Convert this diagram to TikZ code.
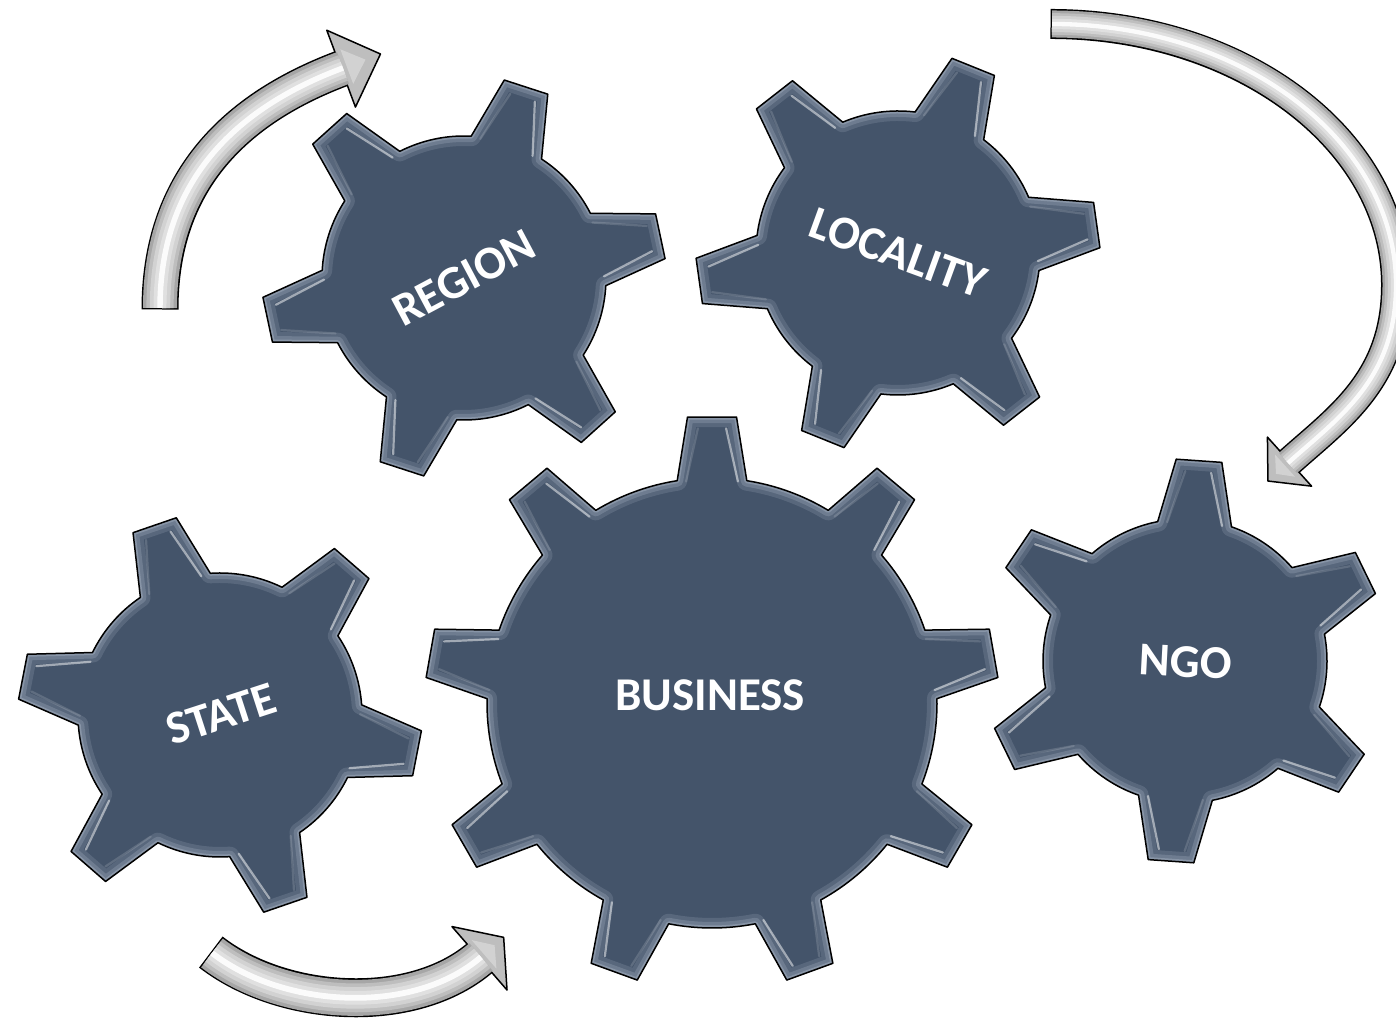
\documentclass[tikz,border=0pt]{standalone}
\usepackage{fontspec}
\setmainfont{Carlito}
\usetikzlibrary{decorations.markings}

\definecolor{cogblue}{HTML}{44546A}
\definecolor{cogrim}{HTML}{A3AFBF}
\definecolor{arrowgray}{HTML}{A6A6A6}
\definecolor{arrowmid}{HTML}{BEBEBE}
\definecolor{arrowlight}{HTML}{D2D2D2}

% outline of a cog: center, teeth, first tooth angle, body radius,
% tip radius, half angle of a tooth at the body and at the tip
\newcommand\cogpath[7]{([shift={(#1)}]{#3-#6}:#4)
    \foreach \k [evaluate=\k as \ang using #3+360*(\k-1)/#2] in {1,...,#2}{
        -- ([shift={(#1)}]{\ang-#7}:#5) -- ([shift={(#1)}]{\ang+#7}:#5)
        -- ([shift={(#1)}]{\ang+#6}:#4)
        arc[start angle={\ang+#6}, end angle={\ang+360/#2-#6}, radius=#4]
    } -- cycle}

% shine along the flanks of every tooth
\newcommand\cogglints[7]{
    \foreach \k [evaluate=\k as \ang using #3+360*(\k-1)/#2] in {1,...,#2}{
        \draw[glint] ([shift={(#1)}]{\ang-0.6*#7}:{#5-12})
            -- ([shift={(#1)}]{\ang-0.75*#6}:{#4-2});
        \draw[glint, opacity=0.15] ([shift={(#1)}]{\ang+0.6*#7}:{#5-12})
            -- ([shift={(#1)}]{\ang+0.75*#6}:{#4-2});
    }}

% curved silver arrow: path, shaft width, head length, head half width
\newcommand\silverarrow[4]{
    \draw[line width=#2+1.5pt, shorten <=-0.75pt] #1;
    \path[decorate, decoration={markings, mark=at position 1 with
        {\filldraw[arrowhead] (-2,-#4) -- (#3,0) -- (-2,#4) -- cycle;
         \fill[arrowlight] (4,-0.45*#4) -- (0.6*#3,0) -- (4,0.45*#4) -- cycle;}}] #1;
    \draw[line width=#2, arrowgray] #1;
    \draw[line width=0.8*#2, arrowmid] #1;
    \draw[line width=0.6*#2, arrowlight] #1;
    \draw[line width=0.38*#2, white!88!black] #1;
    \draw[line width=0.16*#2, white, opacity=0.9] #1;
}

\begin{document}
\begin{tikzpicture}[
        x=0.5pt, y=0.5pt,
        cog/.style={fill=cogblue},
        rim/.style={draw=cogrim, line join=round},
        glint/.style={white, line width=1.1pt, line cap=round, opacity=0.5},
        cogline/.style={draw=black, line width=0.75pt, line join=round},
        cogtext/.style={text=white, inner sep=0pt,
            font=\bfseries\fontsize{23.5}{28}\selectfont},
        arrowhead/.style={fill=arrowmid, draw=black, line width=0.75pt,
            line join=round},
    ]
    \useasboundingbox (0,0) rectangle (1396,1020);
    \fill[white] (0,0) rectangle (1396,1020);

    % cogs
    \foreach \nm/\pos/\lpos/\nt/\off/\rb/\rt/\bsa/\tpa/\rot/\txt in {
        region/{464,742}/{464,742}/6/12/142/202/15.1/6.5/28/REGION,
        locality/{898,767}/{898,767}/6/8/142/202/15.1/6.5/-20/LOCALITY,
        state/{220,305}/{221,306}/6/49/142/202/15.1/6.5/18/STATE,
        ngo/{1185,359}/{1186,358}/6/26/142/202/15.1/6.5/-3/NGO,
        business/{712,317}/{710,325}/9/10/225/287/8.9/4.9/0/BUSINESS}
    {
        \fill[cog] \cogpath{\pos}{\nt}{\off}{\rb}{\rt}{\bsa}{\tpa};
        \begin{scope}
            \clip \cogpath{\pos}{\nt}{\off}{\rb}{\rt}{\bsa}{\tpa};
            \draw[rim, line width=10pt, opacity=0.22]
                \cogpath{\pos}{\nt}{\off}{\rb}{\rt}{\bsa}{\tpa};
            \draw[rim, line width=6pt, opacity=0.3]
                \cogpath{\pos}{\nt}{\off}{\rb}{\rt}{\bsa}{\tpa};
            \draw[rim, line width=2.5pt, opacity=0.5]
                \cogpath{\pos}{\nt}{\off}{\rb}{\rt}{\bsa}{\tpa};
            \cogglints{\pos}{\nt}{\off}{\rb}{\rt}{\bsa}{\tpa}
        \end{scope}
        \draw[cogline] \cogpath{\pos}{\nt}{\off}{\rb}{\rt}{\bsa}{\tpa};
        \node[cogtext, rotate=\rot] (\nm) at (\lpos) {\txt};
    }

    % arrows
    \coordinate (up1) at (160,712);
    \coordinate (up2) at (343,952);
    \coordinate (round1) at (1052,996);
    \coordinate (round2) at (1288,557);
    \coordinate (low1) at (212,67);
    \coordinate (low2) at (481,63);
    \silverarrow{(up1) .. controls (160,830) and (225,908) .. (up2)}{17pt}{40}{41}
    \silverarrow{(round1) arc[start angle=90, end angle=0,
        x radius=344, y radius=261]
        .. controls +(0,-95) and +(50,45) .. (round2)}{13.5pt}{27}{33}
    \silverarrow{(low1) .. controls (283,12) and (413,4) .. (low2)}{18pt}{30}{42}
\end{tikzpicture}
\end{document}
